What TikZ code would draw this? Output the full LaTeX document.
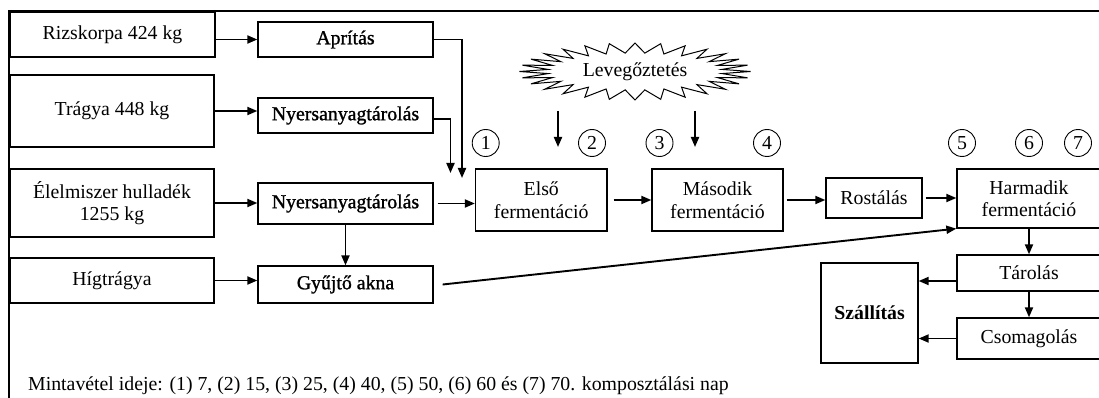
\documentclass[tikz,border=0pt]{standalone}
\usepackage{fontspec}
\setmainfont{Liberation Serif}
\newfontfamily\heavyserif[FakeBold=1.2]{Liberation Serif}
\usetikzlibrary{arrows.meta,calc}
\newcommand\mainfs{\fontsize{19.8}{22.5}\selectfont}

\begin{document}
\begin{tikzpicture}[x=1pt,y=-1pt,
  box/.style={draw,line width=1.3pt,inner sep=0pt,align=center,font=\mainfs},
  stage/.style={box,font=\mainfs\heavyserif},
  arr/.style={line width=1.9pt,-{Triangle[length=10pt,width=8pt]}},
  num/.style={draw,circle,line width=0.9pt,minimum size=27pt,inner sep=0pt,font=\mainfs},
  burst/.style={line width=1pt,line join=miter},
  frame/.style={line width=2pt},
]
\useasboundingbox (0,0) rectangle (1099,398);
\clip (0,0) rectangle (1099,398);

% outer frame
\draw[frame] (9,11) rectangle (1130,430);

% raw materials
\node[box,minimum width=205pt,minimum height=45pt] (rizs)   at (112.5,34.5) {Rizskorpa 424 kg};
\node[box,minimum width=204pt,minimum height=72pt] (tragya) at (112,111)    {Trágya 448 kg};
\node[box,minimum width=204pt,minimum height=68pt] (elel)   at (112,203)    {Élelmiszer hulladék\\1255 kg};
\node[box,minimum width=204pt,minimum height=45pt] (hig)    at (112,280.5)  {Hígtrágya};

% pre-treatment
\node[stage,minimum width=175pt,minimum height=35pt] (aprit)  at (345.5,39.5)  {Aprítás};
\node[stage,minimum width=175pt,minimum height=35pt] (nyers1) at (345.5,115.5) {Nyersanyagtárolás};
\node[stage,minimum width=175pt,minimum height=41pt] (nyers2) at (345.5,203.5) {Nyersanyagtárolás};
\node[stage,minimum width=175pt,minimum height=37pt] (gyujto) at (345.5,284.5) {Gyűjtő akna};

% composting line
\node[box,minimum width=131.5pt,minimum height=62pt] (elso)    at (541.25,200) {Első\\fermentáció};
\node[box,minimum width=131pt,minimum height=62pt]   (masodik) at (717.5,200)  {Második\\fermentáció};
\node[box,minimum width=96pt,minimum height=40pt]    (rost)    at (874,198)    {Rostálás};
\node[box,minimum width=144pt,minimum height=59pt]   (harm)    at (1029,198.5) {Harmadik\\fermentáció};
\node[box,minimum width=144pt,minimum height=36pt]   (tarolas) at (1029,273)   {Tárolás};
\node[box,minimum width=144pt,minimum height=41pt]   (csomag)  at (1029,338.5) {Csomagolás};
\node[box,minimum width=97pt,minimum height=100pt,font=\mainfs\bfseries] (szall) at (869.5,313) {Szállítás};

% aeration: a spiky burst around the label
\node[font=\mainfs,inner sep=0pt] (air) at (635,71.5) {Levegőztetés};
\foreach \k in {0,...,55} {
  \pgfmathsetmacro\burstrx{ifthenelse(mod(\k,2)==0,115.5,87.5)}
  \pgfmathsetmacro\burstry{ifthenelse(mod(\k,2)==0,28.5,18.5)}
  \pgfmathsetmacro\burstang{\k*45/7}
  \coordinate (bp\k) at ($(air.center)+({\burstrx*cos(\burstang)},{\burstry*sin(\burstang)})$);
}
\draw[burst] (bp0) \foreach \k in {1,...,55} { -- (bp\k) } -- cycle;
\coordinate (a1) at (558,111);  \coordinate (b1) at (558,147);
\coordinate (a2) at (695,111);  \coordinate (b2) at (695,147);
\draw[arr] (a1) -- (b1);
\draw[arr] (a2) -- (b2);

% sampling points
\node[num] (s1) at (485.7,143) {1};
\node[num] (s2) at (592,143)   {2};
\node[num] (s3) at (659.5,143) {3};
\node[num] (s4) at (767,143)   {4};
\node[num] (s5) at (962,143)   {5};
\node[num] (s6) at (1029,143)  {6};
\node[num] (s7) at (1078,143)  {7};

% material flow
\coordinate (jA) at (462,178);
\coordinate (jB) at (450.5,173);
\draw[arr] (rizs.east |- aprit) -- (aprit.west);
\draw[arr] (tragya.east) -- (tragya.east -| nyers1.west);
\draw[arr] (elel.east) -- (elel.east -| nyers2.west);
\draw[arr] (hig.east) -- (hig.east -| gyujto.west);
\draw[arr] (nyers2.south) -- (gyujto.north);
\draw[arr] (aprit.east) -| (jA);
\draw[arr] ([yshift=-3.5pt]nyers1.east) -| (jB);
\draw[arr,shorten <=4pt] (nyers2.east) -- (nyers2.east -| elso.west);
\draw[arr,shorten <=6pt] (elso.east) -- (elso.east -| masodik.west);
\draw[arr,shorten <=3pt] (masodik.east) -- (masodik.east -| rost.west);
\draw[arr,shorten <=3pt] (rost.east) -- (rost.east -| harm.west);
\draw[arr] ([xshift=9pt]gyujto.east) -- (harm.south west);
\draw[arr] (harm.south) -- (tarolas.north);
\draw[arr] (tarolas.south) -- (csomag.north);
\draw[arr] ([yshift=-8pt]tarolas.west) -- ([yshift=-8pt]tarolas.west -| szall.east);
\draw[arr] (csomag.west) -- (csomag.west -| szall.east);

% note
\node[anchor=base west,font=\mainfs,inner sep=0pt] (note) at (28,390)
  {Mintavétel ideje: (1) 7, (2) 15, (3) 25, (4) 40, (5) 50, (6) 60 és (7) 70. komposztálási nap};
\end{tikzpicture}
\end{document}
